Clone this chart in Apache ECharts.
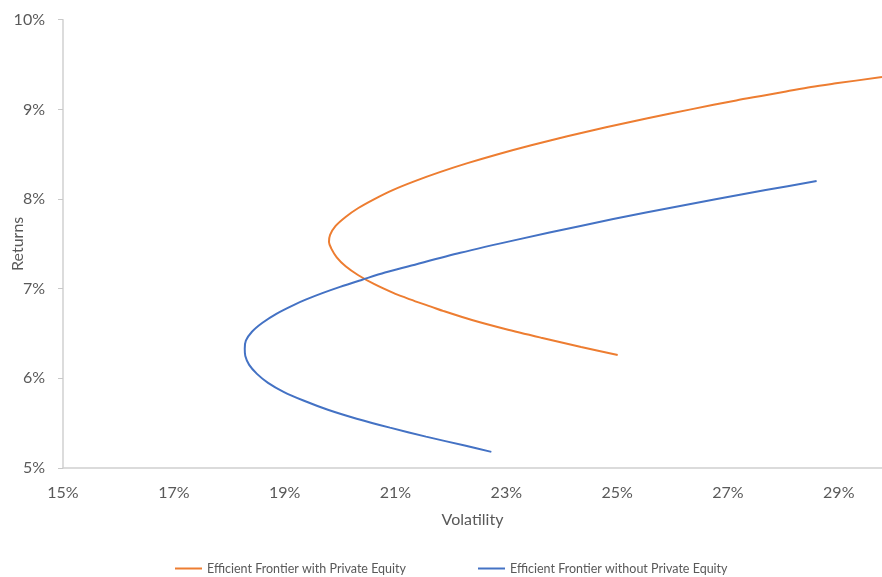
<!DOCTYPE html>
<html>
<head>
<meta charset="utf-8">
<script src="https://cdn.jsdelivr.net/npm/echarts@6/dist/echarts.min.js"></script>
<style>
  html, body { margin: 0; padding: 0; background: #fff; }
  #chart { width: 882px; height: 577px; }
</style>
</head>
<body>
<div id="chart"></div>
<script>
// Efficient frontier points: volatility (%) and expected return (%)
const withPEVol = [25.01, 24.35, 23.65, 22.98, 22.38, 21.87, 21.64, 21.40, 21.18, 20.97, 20.62, 20.33, 20.10, 19.94, 19.84, 19.80, 19.82, 19.92, 20.10, 20.33, 20.62, 20.95, 21.35, 21.80, 22.30, 22.85, 23.45, 24.10, 24.80, 25.55, 26.33, 27.15, 27.60, 28.05, 28.50, 28.95, 29.78];
const withPERet = [6.26, 6.35, 6.45, 6.55, 6.65, 6.75, 6.80, 6.85, 6.90, 6.95, 7.05, 7.15, 7.25, 7.35, 7.45, 7.52, 7.60, 7.70, 7.80, 7.90, 8.00, 8.10, 8.20, 8.30, 8.40, 8.50, 8.60, 8.70, 8.80, 8.90, 9.00, 9.10, 9.15, 9.20, 9.25, 9.29, 9.36];

const withoutPEVol = [22.73, 22.25, 21.55, 20.90, 20.30, 19.78, 19.35, 18.98, 18.70, 18.50, 18.36, 18.29, 18.28, 18.30, 18.41, 18.60, 18.85, 19.17, 19.39, 19.68, 20.00, 20.40, 20.81, 21.24, 22.17, 23.22, 24.34, 25.52, 26.80, 27.68, 28.60];
const withoutPERet = [5.18, 5.25, 5.35, 5.45, 5.55, 5.65, 5.75, 5.85, 5.95, 6.05, 6.15, 6.25, 6.33, 6.42, 6.52, 6.62, 6.72, 6.82, 6.88, 6.95, 7.02, 7.10, 7.18, 7.25, 7.40, 7.55, 7.70, 7.85, 8.00, 8.10, 8.20];

const seriesNames = ['Efficient Frontier with Private Equity', 'Efficient Frontier without Private Equity'];

const pair = (xs, ys) => xs.map((x, i) => [x, ys[i]]);

const FONT = 'Lato';
const TEXT = '#595959';

const chart = echarts.init(document.getElementById('chart'), null, { renderer: 'canvas' });
chart.setOption({
  animation: false,
  backgroundColor: '#ffffff',
  grid: {
    left: 63, right: 0, top: 19.7, bottom: 109,
    containLabel: false,
    outerBoundsMode: 'none'
  },
  xAxis: {
    type: 'value',
    min: 15, max: 29.78, interval: 2,
    name: 'Volatility',
    nameLocation: 'middle',
    nameGap: 44,
    nameMoveOverlap: false,
    nameTextStyle: { fontFamily: FONT, fontSize: 16, color: TEXT },
    axisLine: { show: true, lineStyle: { color: '#d0d0d0', width: 1.5 } },
    axisTick: { show: false },
    splitLine: { show: false },
    axisLabel: {
      fontFamily: FONT, fontSize: 16, color: TEXT, margin: 17,
      showMaxLabel: false,
      formatter: v => v + '%'
    }
  },
  yAxis: {
    type: 'value',
    min: 5, max: 10, interval: 1,
    name: 'Returns',
    nameLocation: 'middle',
    nameGap: 37,
    nameMoveOverlap: false,
    nameTextStyle: { fontFamily: FONT, fontSize: 16, color: TEXT },
    axisLine: { show: true, lineStyle: { color: '#d0d0d0', width: 1.5 } },
    axisTick: { show: true, inside: false, length: 5, lineStyle: { color: '#c8c8c8' } },
    splitLine: { show: false },
    axisLabel: {
      fontFamily: FONT, fontSize: 16, color: TEXT, margin: 18,
      formatter: v => v + '%'
    }
  },
  legend: {
    left: 170, top: 557,
    itemWidth: 27, itemHeight: 2, itemGap: 72,
    icon: 'rect',
    textStyle: { fontFamily: FONT, fontSize: 12.5, color: TEXT },
    data: seriesNames
  },
  series: [
    {
      name: seriesNames[0],
      type: 'line',
      data: pair(withPEVol, withPERet),
      smooth: 0.3,
      showSymbol: false,
      clip: true,
      color: '#ED7D31',
      lineStyle: { color: '#ED7D31', width: 2 }
    },
    {
      name: seriesNames[1],
      type: 'line',
      data: pair(withoutPEVol, withoutPERet),
      smooth: 0.3,
      showSymbol: false,
      clip: true,
      color: '#4472C4',
      lineStyle: { color: '#4472C4', width: 2 }
    }
  ]
});
</script>
</body>
</html>
